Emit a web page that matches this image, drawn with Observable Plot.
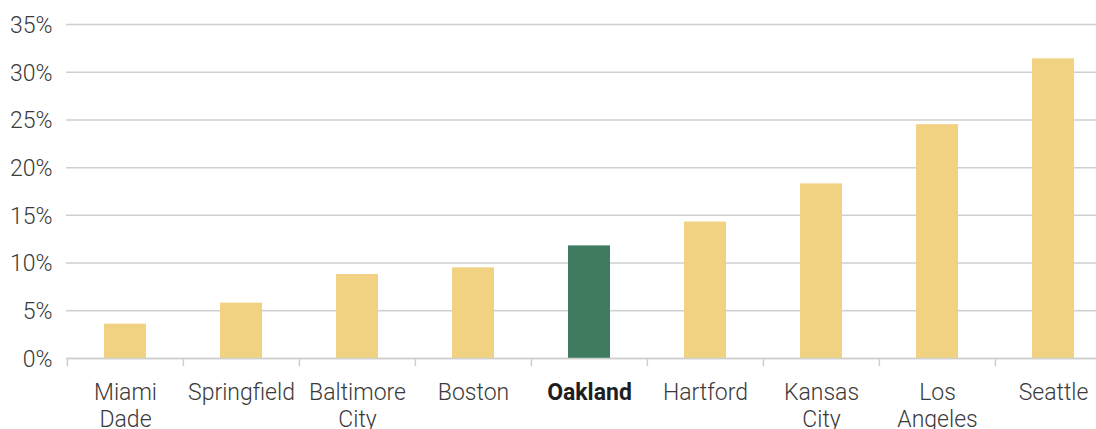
<!DOCTYPE html>
<html>
<head>
<meta charset="utf-8">
<script src="https://cdn.jsdelivr.net/npm/d3@7"></script>
<script src="https://cdn.jsdelivr.net/npm/@observablehq/plot@0.6"></script>
<style>
  html, body { margin: 0; padding: 0; background: #fff; overflow: hidden; }
  #chart svg { display: block; }
</style>
</head>
<body>
<div id="chart"></div>
<script>
const cities = ["Miami Dade", "Springfield", "Baltimore City", "Boston", "Oakland", "Hartford", "Kansas City", "Los Angeles", "Seattle"];
const labels = ["Miami\nDade", "Springfield", "Baltimore\nCity", "Boston", "Oakland", "Hartford", "Kansas\nCity", "Los\nAngeles", "Seattle"];
const values = [3.6, 5.8, 8.8, 9.5, 11.8, 14.3, 18.3, 24.5, 31.4];
const highlight = "Oakland";
const yTicks = [0, 5, 10, 15, 20, 25, 30, 35];

const data = cities.map((c, i) => ({city: c, value: values[i]}));
const labelOf = new Map(cities.map((c, i) => [c, labels[i]]));

const W = 1096, H = 429;
const xRange = [66, 1112];
const step = (xRange[1] - xRange[0]) / cities.length;
const font = "Roboto, 'DejaVu Sans', sans-serif";

const chart = Plot.plot({
  width: W,
  height: H,
  marginLeft: 66,
  marginRight: 0,
  marginTop: 24,
  marginBottom: 71,
  style: {fontFamily: font, fontSize: "23px", color: "#3a3a3a", background: "#fff", overflow: "hidden"},
  x: {domain: cities, range: xRange, paddingInner: 0.636, paddingOuter: 0.318, align: 0.5},
  y: {domain: [0, 35]},
  marks: [
    Plot.gridY(yTicks, {stroke: "#cfcfcf", strokeOpacity: 1, strokeWidth: 1.5}),
    Plot.axisY(yTicks, {tickSize: 0, tickPadding: 14, dy: 1, tickFormat: d => d + "%", fontWeight: 300, fill: "#3a3a3a", label: null}),
    Plot.barY(data, {x: "city", y: "value", fill: d => d.city === highlight ? "#3f7b5e" : "#f1d282"}),
    Plot.ruleY([0], {stroke: "#cfcfcf", strokeWidth: 1.5}),
    Plot.ruleX(cities, {x: d => d, dx: -step / 2, y1: 0, y2: 0, insetBottom: -8, stroke: "#cfcfcf", strokeWidth: 1.5}),
    Plot.axisX(cities.filter(c => c !== highlight), {tickSize: 0, tickPadding: 22, lineHeight: 1.17, tickFormat: d => labelOf.get(d), fontWeight: 300, fill: "#3a3a3a", label: null}),
    Plot.axisX([highlight], {tickSize: 0, tickPadding: 22, lineHeight: 1.17, tickFormat: d => labelOf.get(d), fontWeight: "bold", fill: "#1e1e1e", label: null})
  ]
});
chart.setAttribute("fill", "currentColor");
document.getElementById("chart").appendChild(chart);
</script>
</body>
</html>
